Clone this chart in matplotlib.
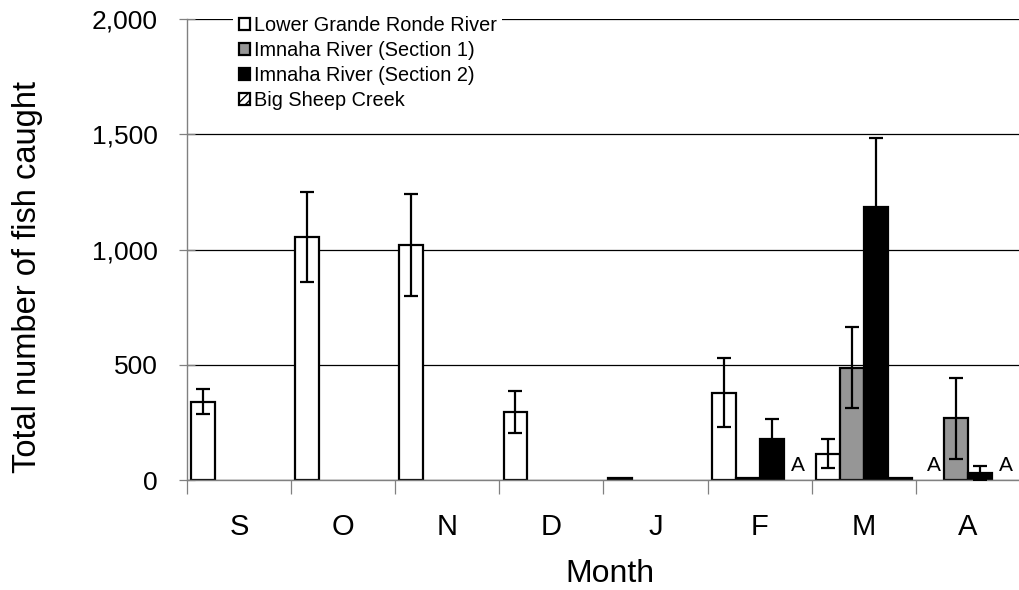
import numpy as np
import matplotlib
matplotlib.use("Agg")
import matplotlib.pyplot as plt
from matplotlib.patches import Patch

plt.rcParams['font.family'] = ['Liberation Sans', 'DejaVu Sans']

months = ["S", "O", "N", "D", "J", "F", "M", "A"]
series = ["Lower Grande Ronde River", "Imnaha River (Section 1)",
          "Imnaha River (Section 2)", "Big Sheep Creek"]

# NaN marks months with no sampling ("A" label)
lower_grande_ronde = [340, 1055, 1020, 295, 8, 378, 115, np.nan]
imnaha_sec1 = [0, 0, 0, 0, 0, 8, 487, 268]
imnaha_sec2 = [0, 0, 0, 0, 0, 178, 1185, 30]
big_sheep = [0, 0, 0, 0, 0, np.nan, 8, np.nan]

lower_grande_ronde_err = [55, 195, 220, 90, 0, 150, 63, 0]
imnaha_sec1_err = [0, 0, 0, 0, 0, 0, 175, 175]
imnaha_sec2_err = [0, 0, 0, 0, 0, 85, 300, 30]
big_sheep_err = [0, 0, 0, 0, 0, 0, 0, 0]

values = [lower_grande_ronde, imnaha_sec1, imnaha_sec2, big_sheep]
errors = [lower_grande_ronde_err, imnaha_sec1_err, imnaha_sec2_err, big_sheep_err]
faces = ["white", "#969696", "black", "white"]

fig = plt.figure(figsize=(10.2, 5.9), dpi=100)
ax = fig.add_axes([0.1833, 0.1864, 0.8167, 0.7814])

x = np.arange(len(months))
width = 0.23
offsets = np.array([-1.5, -0.5, 0.5, 1.5]) * width

ax.set_axisbelow(True)
for vals, errs, fc, off in zip(values, errors, faces, offsets):
    vals = np.array(vals, dtype=float)
    errs = np.array(errs, dtype=float)
    for xi, v, e in zip(x, vals, errs):
        if np.isnan(v):
            ax.text(xi + off + 0.02, 22, "A", ha="center", va="bottom", fontsize=15)
            continue
        if v <= 0:
            continue
        ax.bar(xi + off, v, width, color=fc, edgecolor="black", linewidth=1.6, zorder=2)
        if e > 0:
            ax.errorbar(xi + off, v, yerr=e, fmt="none", ecolor="black",
                        elinewidth=1.6, capsize=4.8, capthick=1.6, zorder=3)

ax.set_xlim(-0.5, len(months) - 0.5)
ax.set_ylim(0, 2000)
ax.set_yticks([0, 500, 1000, 1500, 2000])
ax.set_yticklabels(["0", "500", "1,000", "1,500", "2,000"])
ax.yaxis.grid(True, color="black", linewidth=0.9)
ax.tick_params(axis="y", direction="inout", length=12, width=0.9, color="#808080",
               labelsize=19, pad=15)

ax.set_xticks(x)
ax.set_xticklabels(months)
ax.set_xticks(np.arange(-0.5, len(months)), minor=True)
ax.tick_params(axis="x", which="major", length=0, labelsize=21, pad=24)
ax.tick_params(axis="x", which="minor", direction="out", length=10, width=0.9, color="#808080")

for s in ["top", "right"]:
    ax.spines[s].set_visible(False)
for s in ["left", "bottom"]:
    ax.spines[s].set_color("#808080")
    ax.spines[s].set_linewidth(1.0)

ax.set_ylabel("Total number of fish caught", fontsize=23.5, va="center")
ax.yaxis.set_label_coords(-0.192, 0.44)
ax.set_xlabel("Month", fontsize=23, va="center")
ax.xaxis.set_label_coords(0.508, -0.204)

handles = [Patch(facecolor=fc, edgecolor="black", linewidth=1.6) for fc in faces]
handles[3] = Patch(facecolor="white", edgecolor="black", linewidth=1.6, hatch="////")
leg = ax.legend(handles, series, loc="upper left", bbox_to_anchor=(0.043, 1.04),
                fontsize=14.3, frameon=True, framealpha=1, edgecolor="white",
                handlelength=0.55, handleheight=0.55, handletextpad=0.2,
                labelspacing=0.3, borderpad=0.3)
leg.get_frame().set_linewidth(0)

fig.savefig("out.png", dpi=100)
